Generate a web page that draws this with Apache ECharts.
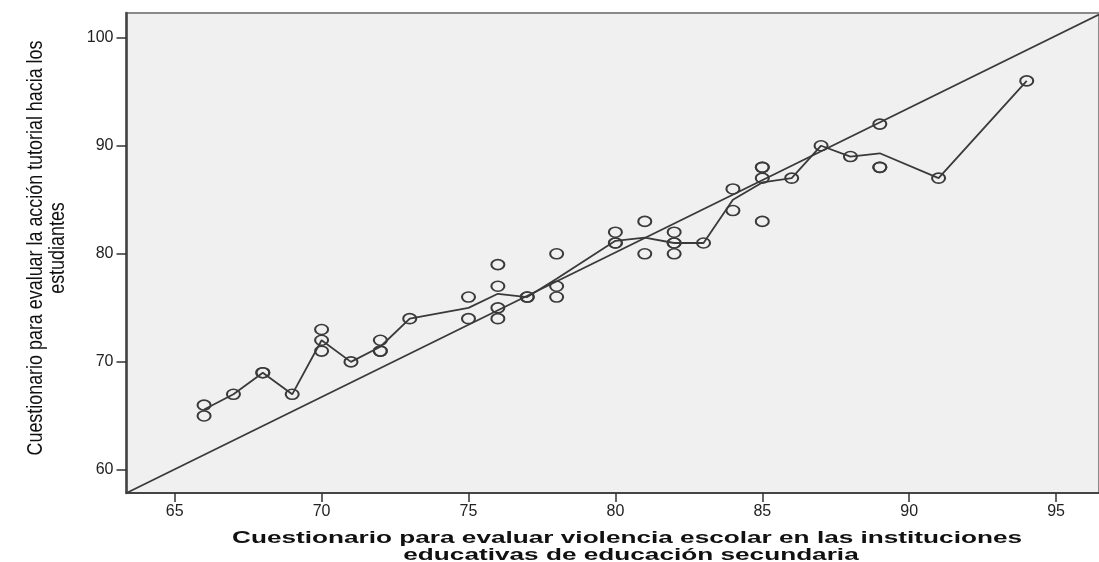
<!DOCTYPE html>
<html>
<head>
<meta charset="utf-8">
<script src="https://cdn.jsdelivr.net/npm/echarts@6/dist/echarts.min.js"></script>
<style>
html,body{margin:0;padding:0;background:#fff;}
#chart{width:1099px;height:562px;}
</style>
</head>
<body>
<div id="chart"></div>
<script>
// ---- data ----
const scatterX = [66,66,67,68,68,69,70,70,70,71,72,72,72,73,75,75,76,76,76,76,77,77,78,78,78,80,80,80,81,81,82,82,82,82,83,84,84,85,85,85,85,86,87,88,89,89,89,91,94];
const scatterY = [66,65,67,69,69,67,73,72,71,70,72,71,71,74,76,74,79,77,75,74,76,76,80,77,76,82,81,81,83,80,82,81,81,80,81,86,84,88,88,87,83,87,90,89,92,88,88,87,96];
const meanLineX = [66,67,68,69,70,71,72,73,75,76,77,78,80,81,82,83,84,85,86,87,88,89,91,94];
const meanLineY = [65.6,67,69,67,72,70,71.4,74,75,76.3,76,77.7,81.2,81.5,81,81,85,86.6,87,90,89,89.3,87,96];
const fitLineX = [63.36, 96.46];
const fitLineY = [57.87, 102.13];
const xTicks = [65,70,75,80,85,90,95];
const yTicks = [60,70,80,90,100];
const xTitle1 = 'Cuestionario para evaluar violencia escolar en las instituciones';
const xTitle2 = 'educativas de educación secundaria';
const yTitle1 = 'Cuestionario para evaluar la acción tutorial hacia los';
const yTitle2 = 'estudiantes';

// ---- build ----
const pts = scatterX.map((x,i)=>[x, scatterY[i]]);
const mean = meanLineX.map((x,i)=>[x, meanLineY[i]]);
const fit = fitLineX.map((x,i)=>[x, fitLineY[i]]);

const mctx = document.createElement('canvas').getContext('2d');
function tw(font, text){ mctx.font = font; return mctx.measureText(text).width; }
const xFont = 'bold 15px "Liberation Sans", Arial, sans-serif';
const xScale = 790 / tw(xFont, xTitle1);
const yFont = '17px "Liberation Sans", Arial, sans-serif';
const yScale = 415 / tw(yFont, yTitle1);

const chart = echarts.init(document.getElementById('chart'), null, {renderer:'canvas'});
const axisLabelStyle = {color:'#222', fontFamily:'"Liberation Sans", Arial, sans-serif', fontSize:16};
chart.setOption({
  animation:false,
  backgroundColor:'#ffffff',
  grid:{left:126.5, top:13, right:-4, bottom:69, show:true, backgroundColor:'#f0f0f0', borderColor:'#8a8a8a', borderWidth:2},
  xAxis:{type:'value', min:63.36, max:96.46, splitLine:{show:false},
    axisLine:{show:true, onZero:false, lineStyle:{color:'#444', width:2}},
    axisTick:{show:true, length:9, customValues:xTicks, lineStyle:{color:'#333', width:1.5}},
    axisLabel:Object.assign({margin:11, customValues:xTicks}, axisLabelStyle)},
  yAxis:{type:'value', min:57.87, max:102.28, splitLine:{show:false},
    axisLine:{show:true, onZero:false, lineStyle:{color:'#444', width:2.5}},
    axisTick:{show:true, length:10, customValues:yTicks, lineStyle:{color:'#333', width:1.5}},
    axisLabel:Object.assign({margin:13, customValues:yTicks}, axisLabelStyle)},
  series:[
    {type:'line', data:fit, symbol:'none', silent:true, lineStyle:{color:'#3a3a3a', width:1.8}},
    {type:'line', data:mean, symbol:'none', silent:true, lineStyle:{color:'#3a3a3a', width:1.8}},
    {type:'scatter', data:pts, symbol:'circle', symbolSize:[13,10],
      itemStyle:{color:'rgba(0,0,0,0)', borderColor:'#3a3a3a', borderWidth:1.8, opacity:1}}
  ],
  graphic:[
    {type:'text', x:627, y:538, scaleX:xScale, scaleY:1.15, silent:true,
      style:{text:xTitle1, font:xFont, fill:'#111', align:'center', verticalAlign:'middle', textAlign:'center', textVerticalAlign:'middle'}},
    {type:'text', x:631, y:555, scaleX:xScale, scaleY:1.15, silent:true,
      style:{text:xTitle2, font:xFont, fill:'#111', align:'center', verticalAlign:'middle', textAlign:'center', textVerticalAlign:'middle'}},
    {type:'text', x:36, y:248, rotation:Math.PI/2, scaleX:yScale, scaleY:1.3, silent:true,
      style:{text:yTitle1, font:yFont, fill:'#111', align:'center', verticalAlign:'middle', textAlign:'center', textVerticalAlign:'middle'}},
    {type:'text', x:58, y:248, rotation:Math.PI/2, scaleX:yScale, scaleY:1.3, silent:true,
      style:{text:yTitle2, font:yFont, fill:'#111', align:'center', verticalAlign:'middle', textAlign:'center', textVerticalAlign:'middle'}}
  ]
});
</script>
</body>
</html>
